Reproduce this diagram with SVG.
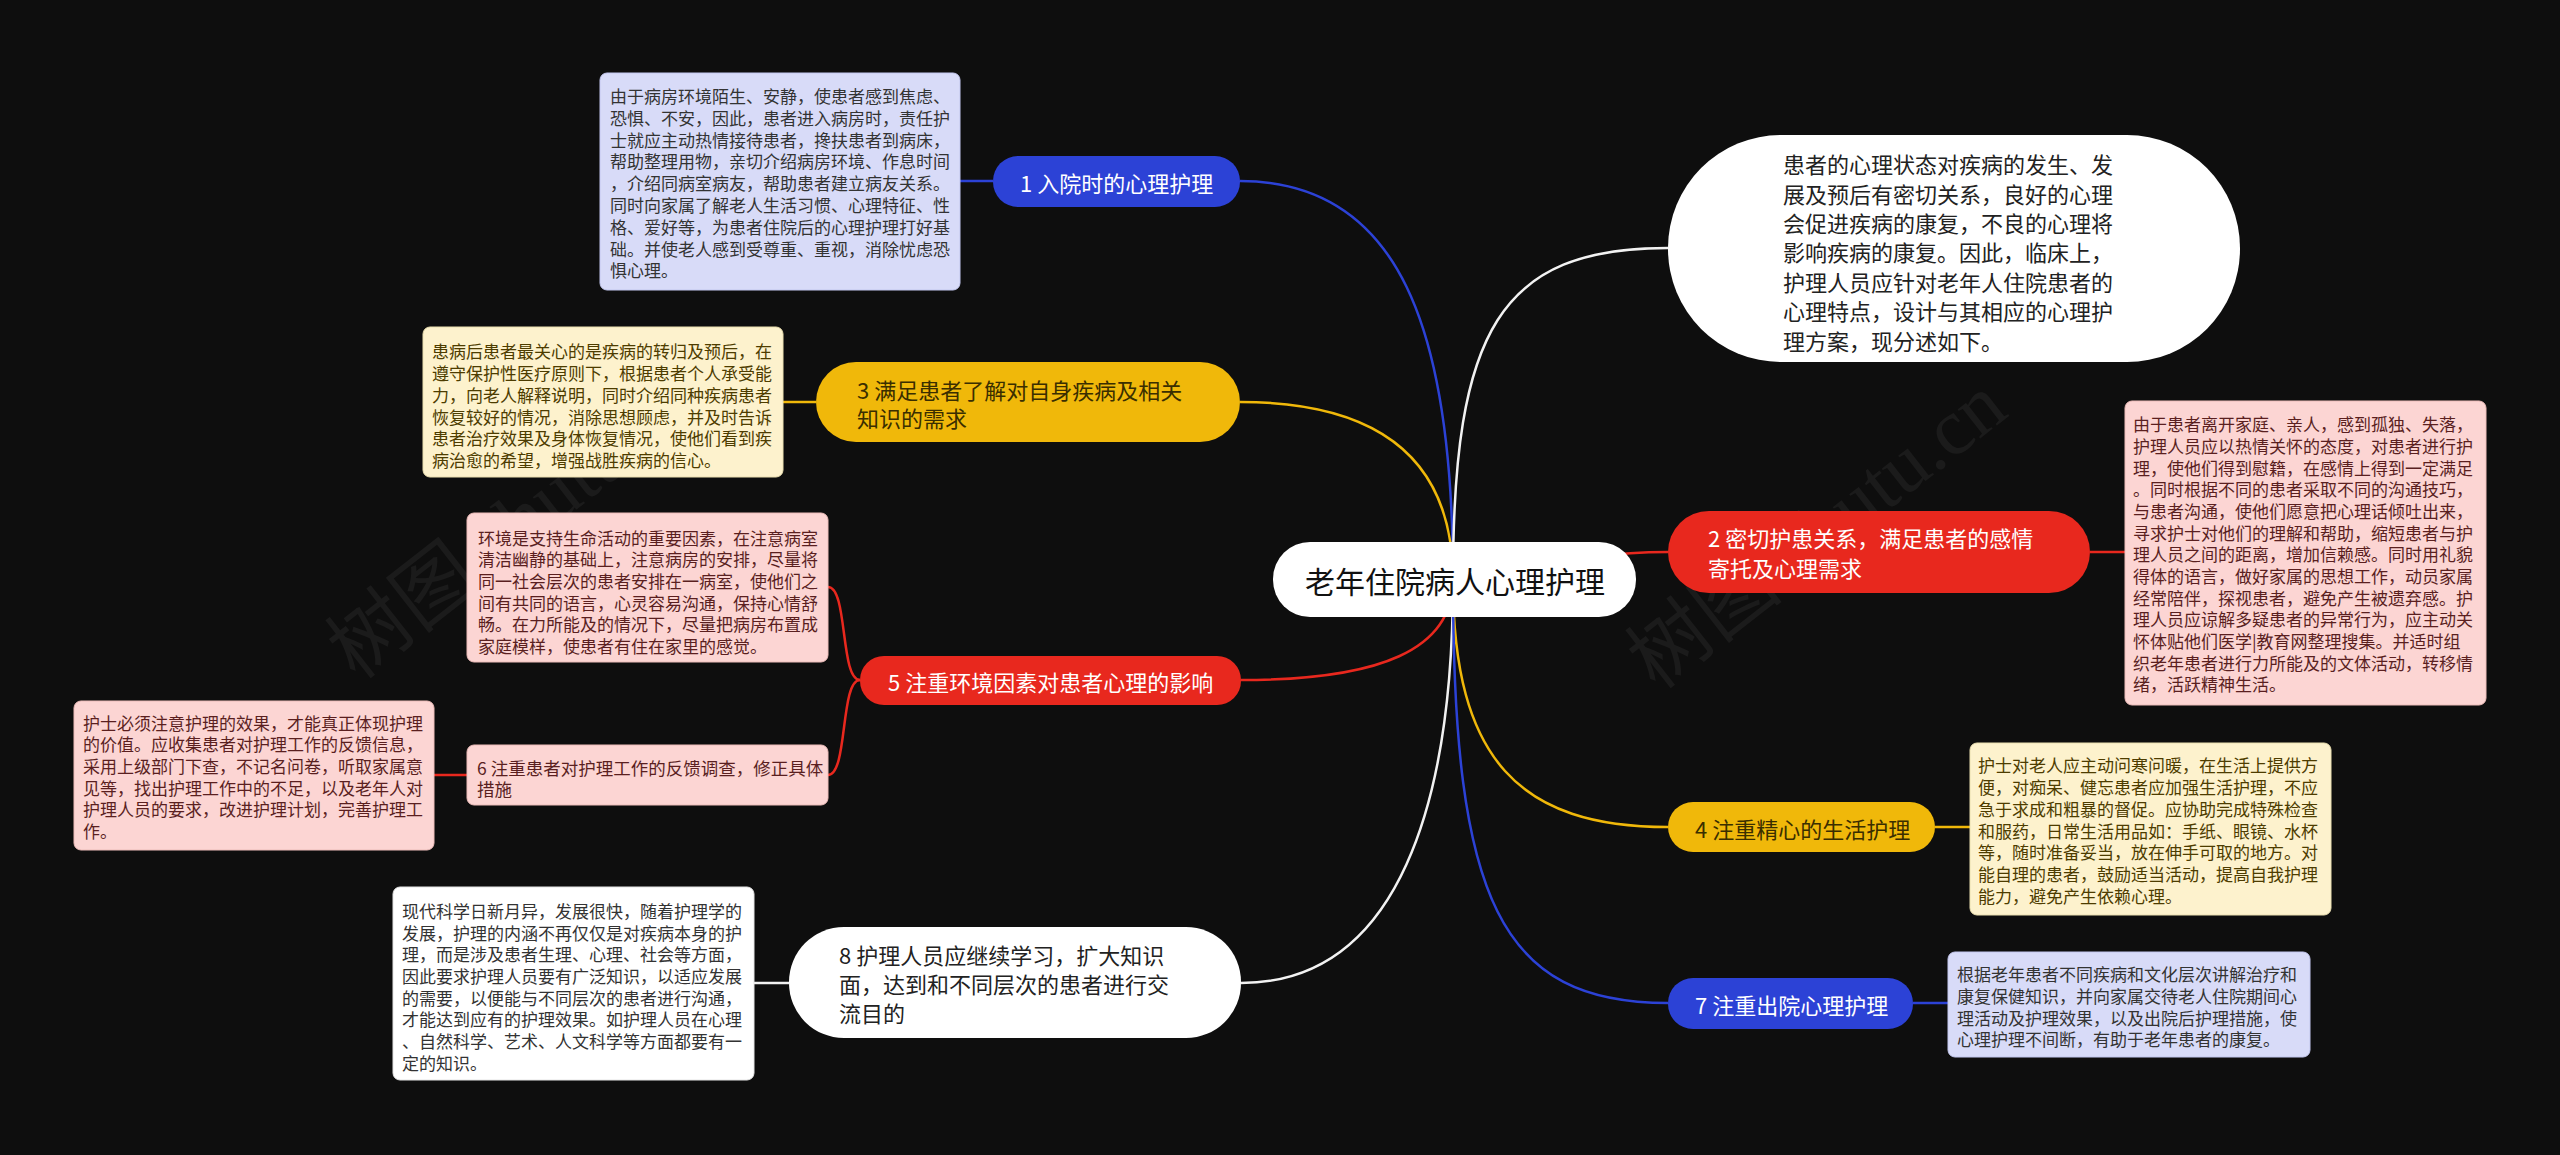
<svg xmlns="http://www.w3.org/2000/svg" width="2560" height="1155" viewBox="0 0 2560 1155">
<style>
text{font-family:"Noto Sans CJK SC","Noto Sans",sans-serif;dominant-baseline:central}
.c{fill:none;stroke-width:2.5}
.blue{stroke:#2c42d6}.yel{stroke:#f0b80a}.red{stroke:#e8281e}.wht{stroke:#f2f2f2}
.nb{fill:#2c42d6}.ny{fill:#f0b80a}.nr{fill:#e8281e}.nw{fill:#ffffff}
.tw{fill:#ffffff;font-size:22px}.tk{fill:#222222;font-size:22px}.ty{fill:#3a2e00;font-size:22px}
.d{font-size:17px}
.bl{fill:#d8dbf8;stroke:#c3c7ef;stroke-width:1}.bc{fill:#fdf2cd;stroke:#eadfb0;stroke-width:1}
.bp{fill:#fcd5d3;stroke:#ecbcb9;stroke-width:1}.bw{fill:#ffffff;stroke:#e4e4e4;stroke-width:1}
.dg{fill:#333333}.dy{fill:#4d3c00}.dr{fill:#5a1f1f}
.wm{font-size:80px;fill:#9a9a9a;opacity:0.09;font-family:"Liberation Serif","Noto Sans CJK SC",serif}
</style>
<rect x="0" y="0" width="2560" height="1155" fill="#0e0e0e"/>
<g id="watermark">
<text class="wm" x="340" y="660" transform="rotate(-38 340 660)">树图 shutu.cn</text>
<text class="wm" x="1640" y="670" transform="rotate(-38 1640 670)">树图 shutu.cn</text>
</g>
<g id="connectors">
<path class="c blue" d="M1240,181 C1400,181 1453,330 1453,580"/>
<path class="c yel" d="M1240,402 C1380,402 1453,460 1453,580"/>
<path class="c red" d="M1241,680 C1380,680 1453,650 1453,580"/>
<path class="c wht" d="M1241,983 C1400,983 1453,800 1453,580"/>
<path class="c wht" d="M1453,580 C1453,330 1500,248 1668,248"/>
<path class="c red" d="M1453,580 C1530,580 1560,552 1668,552"/>
<path class="c yel" d="M1453,580 C1453,760 1520,827 1668,827"/>
<path class="c blue" d="M1453,580 C1453,900 1500,1003 1668,1003"/>
<path class="c blue" d="M960,181 L993,181"/>
<path class="c yel" d="M783,402 L816,402"/>
<path class="c red" d="M860,680 C840,680 848,587 828,587"/>
<path class="c red" d="M860,680 C840,680 848,775 828,775"/>
<path class="c red" d="M434,775 L467,775"/>
<path class="c wht" d="M754,983 L789,983"/>
<path class="c red" d="M2090,552 L2125,552"/>
<path class="c yel" d="M1935,827 L1970,827"/>
<path class="c blue" d="M1913,1003 L1948,1003"/>
</g>
<g id="center">
<rect x="1273" y="542" width="363" height="75" rx="37" class="nw"/>
<text x="1455" y="580" text-anchor="middle" style="font-size:30px;fill:#111">老年住院病人心理护理</text>
</g>
<g id="n1">
<rect x="993" y="156" width="247" height="51" rx="25" class="nb"/>
<text class="tw" x="1020" y="182">1 入院时的心理护理</text>
</g>
<g id="n3">
<rect x="816" y="362" width="424" height="80" rx="40" class="ny"/>
<text class="ty" x="857" y="389">3 满足患者了解对自身疾病及相关</text>
<text class="ty" x="857" y="417">知识的需求</text>
</g>
<g id="n5">
<rect x="860" y="656" width="381" height="49" rx="24" class="nr"/>
<text class="tw" x="888" y="681">5 注重环境因素对患者心理的影响</text>
</g>
<g id="n8">
<rect x="789" y="927" width="452" height="111" rx="55" class="nw"/>
<text class="tk" x="839" y="954">8 护理人员应继续学习，扩大知识</text>
<text class="tk" x="839" y="983">面，达到和不同层次的患者进行交</text>
<text class="tk" x="839" y="1012">流目的</text>
</g>
<g id="intro">
<rect x="1668" y="135" width="572" height="227" rx="113" class="nw"/>
<g class="tk">
<text x="1783" y="163">患者的心理状态对疾病的发生、发</text>
<text x="1783" y="193">展及预后有密切关系，良好的心理</text>
<text x="1783" y="222">会促进疾病的康复，不良的心理将</text>
<text x="1783" y="251">影响疾病的康复。因此，临床上，</text>
<text x="1783" y="281">护理人员应针对老年人住院患者的</text>
<text x="1783" y="310">心理特点，设计与其相应的心理护</text>
<text x="1783" y="340">理方案，现分述如下。</text>
</g>
</g>
<g id="n2">
<rect x="1668" y="511" width="422" height="82" rx="41" class="nr"/>
<text class="tw" x="1708" y="537">2 密切护患关系，满足患者的感情</text>
<text class="tw" x="1708" y="567">寄托及心理需求</text>
</g>
<g id="n4">
<rect x="1668" y="802" width="267" height="50" rx="25" class="ny"/>
<text class="ty" x="1695" y="828">4 注重精心的生活护理</text>
</g>
<g id="n7">
<rect x="1668" y="978" width="245" height="51" rx="25" class="nb"/>
<text class="tw" x="1695" y="1004">7 注重出院心理护理</text>
</g>
<g id="d1">
<rect x="600" y="73" width="360" height="217" rx="7" class="bl"/>
<g class="d dg">
<text x="610" y="95">由于病房环境陌生、安静，使患者感到焦虑、</text>
<text x="610" y="117">恐惧、不安，因此，患者进入病房时，责任护</text>
<text x="610" y="139">士就应主动热情接待患者，搀扶患者到病床，</text>
<text x="610" y="160">帮助整理用物，亲切介绍病房环境、作息时间</text>
<text x="610" y="182">，介绍同病室病友，帮助患者建立病友关系。</text>
<text x="610" y="204">同时向家属了解老人生活习惯、心理特征、性</text>
<text x="610" y="226">格、爱好等，为患者住院后的心理护理打好基</text>
<text x="610" y="248">础。并使老人感到受尊重、重视，消除忧虑恐</text>
<text x="610" y="269">惧心理。</text>
</g>
</g>
<g id="d3">
<rect x="423" y="327" width="360" height="150" rx="7" class="bc"/>
<g class="d dy">
<text x="432" y="350">患病后患者最关心的是疾病的转归及预后，在</text>
<text x="432" y="372">遵守保护性医疗原则下，根据患者个人承受能</text>
<text x="432" y="394">力，向老人解释说明，同时介绍同种疾病患者</text>
<text x="432" y="416">恢复较好的情况，消除思想顾虑，并及时告诉</text>
<text x="432" y="437">患者治疗效果及身体恢复情况，使他们看到疾</text>
<text x="432" y="459">病治愈的希望，增强战胜疾病的信心。</text>
</g>
</g>
<g id="d5">
<rect x="467" y="513" width="361" height="149" rx="7" class="bp"/>
<g class="d dr">
<text x="478" y="537">环境是支持生命活动的重要因素，在注意病室</text>
<text x="478" y="558">清洁幽静的基础上，注意病房的安排，尽量将</text>
<text x="478" y="580">同一社会层次的患者安排在一病室，使他们之</text>
<text x="478" y="602">间有共同的语言，心灵容易沟通，保持心情舒</text>
<text x="478" y="623">畅。在力所能及的情况下，尽量把病房布置成</text>
<text x="478" y="645">家庭模样，使患者有住在家里的感觉。</text>
</g>
</g>
<g id="n6">
<rect x="467" y="745" width="361" height="60" rx="7" class="bp"/>
<text class="dr" style="font-size:17.5px" x="477" y="767">6 注重患者对护理工作的反馈调查，修正具体</text>
<text class="dr" style="font-size:17.5px" x="477" y="788">措施</text>
</g>
<g id="d6">
<rect x="74" y="701" width="360" height="149" rx="7" class="bp"/>
<g class="d dr">
<text x="83" y="722">护士必须注意护理的效果，才能真正体现护理</text>
<text x="83" y="743">的价值。应收集患者对护理工作的反馈信息，</text>
<text x="83" y="765">采用上级部门下查，不记名问卷，听取家属意</text>
<text x="83" y="787">见等，找出护理工作中的不足，以及老年人对</text>
<text x="83" y="808">护理人员的要求，改进护理计划，完善护理工</text>
<text x="83" y="830">作。</text>
</g>
</g>
<g id="d8">
<rect x="393" y="887" width="361" height="193" rx="7" class="bw"/>
<g class="d dg">
<text x="402" y="910">现代科学日新月异，发展很快，随着护理学的</text>
<text x="402" y="932">发展，护理的内涵不再仅仅是对疾病本身的护</text>
<text x="402" y="953">理，而是涉及患者生理、心理、社会等方面，</text>
<text x="402" y="975">因此要求护理人员要有广泛知识，以适应发展</text>
<text x="402" y="997">的需要，以便能与不同层次的患者进行沟通，</text>
<text x="402" y="1018">才能达到应有的护理效果。如护理人员在心理</text>
<text x="402" y="1040">、自然科学、艺术、人文科学等方面都要有一</text>
<text x="402" y="1062">定的知识。</text>
</g>
</g>
<g id="d2">
<rect x="2125" y="401" width="361" height="304" rx="7" class="bp"/>
<g class="d dr">
<text x="2133" y="423">由于患者离开家庭、亲人，感到孤独、失落，</text>
<text x="2133" y="445">护理人员应以热情关怀的态度，对患者进行护</text>
<text x="2133" y="467">理，使他们得到慰籍，在感情上得到一定满足</text>
<text x="2133" y="488">。同时根据不同的患者采取不同的沟通技巧，</text>
<text x="2133" y="510">与患者沟通，使他们愿意把心理话倾吐出来，</text>
<text x="2133" y="532">寻求护士对他们的理解和帮助，缩短患者与护</text>
<text x="2133" y="553">理人员之间的距离，增加信赖感。同时用礼貌</text>
<text x="2133" y="575">得体的语言，做好家属的思想工作，动员家属</text>
<text x="2133" y="597">经常陪伴，探视患者，避免产生被遗弃感。护</text>
<text x="2133" y="618">理人员应谅解多疑患者的异常行为，应主动关</text>
<text x="2133" y="640">怀体贴他们医学|教育网整理搜集。并适时组</text>
<text x="2133" y="662">织老年患者进行力所能及的文体活动，转移情</text>
<text x="2133" y="683">绪，活跃精神生活。</text>
</g>
</g>
<g id="d4">
<rect x="1970" y="743" width="361" height="172" rx="7" class="bc"/>
<g class="d dy">
<text x="1978" y="764">护士对老人应主动问寒问暖，在生活上提供方</text>
<text x="1978" y="786">便，对痴呆、健忘患者应加强生活护理，不应</text>
<text x="1978" y="808">急于求成和粗暴的督促。应协助完成特殊检查</text>
<text x="1978" y="830">和服药，日常生活用品如：手纸、眼镜、水杯</text>
<text x="1978" y="851">等，随时准备妥当，放在伸手可取的地方。对</text>
<text x="1978" y="873">能自理的患者，鼓励适当活动，提高自我护理</text>
<text x="1978" y="895">能力，避免产生依赖心理。</text>
</g>
</g>
<g id="d7">
<rect x="1948" y="952" width="362" height="105" rx="7" class="bl"/>
<g class="d dg">
<text x="1957" y="973">根据老年患者不同疾病和文化层次讲解治疗和</text>
<text x="1957" y="995">康复保健知识，并向家属交待老人住院期间心</text>
<text x="1957" y="1017">理活动及护理效果，以及出院后护理措施，使</text>
<text x="1957" y="1038">心理护理不间断，有助于老年患者的康复。</text>
</g>
</g>
</svg>
